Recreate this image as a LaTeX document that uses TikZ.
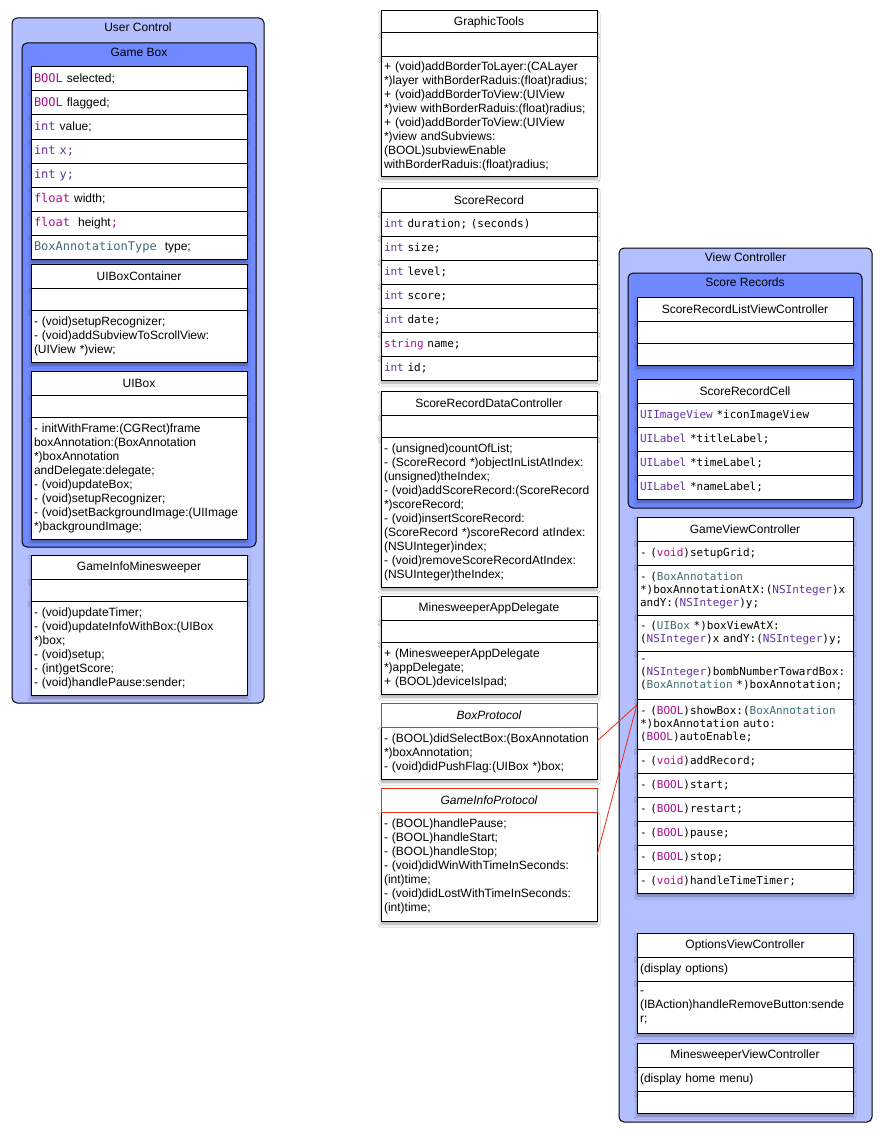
\documentclass[tikz,border=0pt]{standalone}
\usepackage{fontspec}
\setmainfont{Liberation Sans}
\newfontfamily\codefont{DejaVu Sans Mono}
\usetikzlibrary{positioning,fit,shadows.blur}

\definecolor{outerblue}{RGB}{179,191,255}
\definecolor{innerblue}{RGB}{112,137,255}
\definecolor{kwmagenta}{RGB}{170,13,145}
\definecolor{kwpurple}{RGB}{100,50,165}
\definecolor{kwteal}{RGB}{63,110,116}
\definecolor{protored}{RGB}{235,45,20}

\newcommand{\kwm}[1]{\textcolor{kwmagenta}{\codefont #1}}
\newcommand{\kwp}[1]{\textcolor{kwpurple}{\codefont #1}}
\newcommand{\kwt}[1]{\textcolor{kwteal}{\codefont #1}}

\begin{document}
\begin{tikzpicture}[
    x=1pt, y=-1pt,
    group/.style      = {draw, line width=1pt, rounded corners=5pt, fill=outerblue,
                         anchor=north west, outer sep=0pt},
    subgroup/.style   = {group, fill=innerblue},
    grouplabel/.style = {inner sep=1pt, font=\fontsize{12}{14}\selectfont},
    boxshadow/.style  = {blur shadow={shadow xshift=0pt, shadow yshift=-3pt,
                         shadow blur radius=3pt, shadow opacity=35}},
    plainhead/.style  = {draw, line width=1pt, fill=white, minimum width=216pt,
                         minimum height=24pt, inner sep=0pt, outer sep=0pt,
                         font=\fontsize{12}{14}\selectfont},
    head/.style       = {plainhead, boxshadow},
    protohead/.style  = {plainhead, draw=protored, font=\fontsize{12}{14}\selectfont\itshape},
    row/.style        = {draw, line width=1pt, fill=white, minimum height=24pt,
                         text width=210pt, inner xsep=3pt, inner ysep=0pt,
                         outer sep=0pt, align=left,
                         font=\fontsize{12}{14}\selectfont, boxshadow},
    coderow/.style    = {row, font=\codefont\fontsize{11}{13}\selectfont},
    every edge/.style = {draw=protored, line width=0.8pt}
]

\fill[white] (0,0) rectangle (882,1137);
\useasboundingbox (0,0) rectangle (882,1137);

% =========================================================
% USER CONTROL
% =========================================================
\node[group, minimum width=252pt, minimum height=685pt] (uc) at (12,18) {};
\node[grouplabel, below=4pt of uc.north] (uclabel) {User Control};

% --- Game Box
\node[subgroup, minimum width=234pt, minimum height=504pt] (gb) at (22,43) {};
\node[grouplabel, below=4pt of gb.north] (gblabel) {Game Box};

\node[row, anchor=north west] (gb1) at (31,67) {\kwm{BOOL} selected;};
\node[row, below=0pt of gb1] (gb2) {\kwm{BOOL} flagged;};
\node[row, below=0pt of gb2] (gb3) {\kwp{int} value;};
\node[row, below=0pt of gb3] (gb4) {\kwp{int x;}};
\node[row, below=0pt of gb4] (gb5) {\kwp{int y;}};
\node[row, below=0pt of gb5] (gb6) {\kwm{float} width;};
\node[row, below=0pt of gb6] (gb7) {\kwm{float}\ \ height\kwm{;}};
\node[row, below=0pt of gb7] (gb8) {\kwt{BoxAnnotationType}\ \ type;};

% --- UIBoxContainer
\node[head, below=5pt of gb8] (uibc1) {UIBoxContainer};
\node[row, minimum height=22pt, below=0pt of uibc1] (uibc2) {};
\node[row, minimum height=52pt, below=0pt of uibc2] (uibc3)
  {- (void)setupRecognizer;\\- (void)addSubviewToScrollView:\\(UIView *)view;};

% --- UIBox
\node[head, below=9pt of uibc3] (uib1) {UIBox};
\node[row, minimum height=22pt, below=0pt of uib1] (uib2) {};
\node[row, minimum height=122pt, below=0pt of uib2] (uib3)
  {- initWithFrame:(CGRect)frame\\boxAnnotation:(BoxAnnotation\\{}*)boxAnnotation\\andDelegate:delegate;\\- (void)updateBox;\\- (void)setupRecognizer;\\- (void)setBackgroundImage:(UIImage\\{}*)backgroundImage;};

% --- GameInfoMinesweeper
\node[head, below=16pt of uib3] (gim1) {GameInfoMinesweeper};
\node[row, minimum height=22pt, below=0pt of gim1] (gim2) {};
\node[row, minimum height=94pt, below=0pt of gim2] (gim3)
  {- (void)updateTimer;\\- (void)updateInfoWithBox:(UIBox\\{}*)box;\\- (void)setup;\\- (int)getScore;\\- (void)handlePause:sender;};

% =========================================================
% MIDDLE COLUMN
% =========================================================
\node[head, minimum height=22pt, anchor=north west] (gt1) at (381,11) {GraphicTools};
\node[row, below=0pt of gt1] (gt2) {};
\node[row, minimum height=119pt, below=0pt of gt2] (gt3)
  {+ (void)addBorderToLayer:(CALayer\\{}*)layer withBorderRaduis:(float)radius;\\+ (void)addBorderToView:(UIView\\{}*)view withBorderRaduis:(float)radius;\\+ (void)addBorderToView:(UIView\\{}*)view andSubviews:\\(BOOL)subviewEnable\\withBorderRaduis:(float)radius;};

% --- ScoreRecord
\node[head, below=12pt of gt3] (sr1) {ScoreRecord};
\node[coderow, below=0pt of sr1] (sr2) {\kwp{int} duration; (seconds)};
\node[coderow, below=0pt of sr2] (sr3) {\kwp{int} size;};
\node[coderow, below=0pt of sr3] (sr4) {\kwp{int} level;};
\node[coderow, below=0pt of sr4] (sr5) {\kwp{int} score;};
\node[coderow, below=0pt of sr5] (sr6) {\kwp{int} date;};
\node[coderow, below=0pt of sr6] (sr7) {\kwm{string} name;};
\node[coderow, below=0pt of sr7] (sr8) {\kwp{int} id;};

% --- ScoreRecordDataController
\node[head, below=11pt of sr8] (srdc1) {ScoreRecordDataController};
\node[row, minimum height=22pt, below=0pt of srdc1] (srdc2) {};
\node[row, minimum height=150pt, below=0pt of srdc2] (srdc3)
  {- (unsigned)countOfList;\\- (ScoreRecord *)objectInListAtIndex:\\(unsigned)theIndex;\\- (void)addScoreRecord:(ScoreRecord\\{}*)scoreRecord;\\- (void)insertScoreRecord:\\(ScoreRecord *)scoreRecord atIndex:\\(NSUInteger)index;\\- (void)removeScoreRecordAtIndex:\\(NSUInteger)theIndex;};

% --- MinesweeperAppDelegate
\node[head, below=9pt of srdc3] (mad1) {MinesweeperAppDelegate};
\node[row, minimum height=22pt, below=0pt of mad1] (mad2) {};
\node[row, minimum height=52pt, below=0pt of mad2] (mad3)
  {+ (MinesweeperAppDelegate\\{}*)appDelegate;\\+ (BOOL)deviceIsIpad;};

% --- BoxProtocol
\node[row, minimum height=52pt, below=33pt of mad3] (bp2)
  {- (BOOL)didSelectBox:(BoxAnnotation\\{}*)boxAnnotation;\\- (void)didPushFlag:(UIBox *)box;};
\node[protohead, above=0pt of bp2] (bp1) {BoxProtocol};

% --- GameInfoProtocol
\node[row, minimum height=109pt, below=33pt of bp2] (gip2)
  {- (BOOL)handlePause;\\- (BOOL)handleStart;\\- (BOOL)handleStop;\\- (void)didWinWithTimeInSeconds:\\(int)time;\\- (void)didLostWithTimeInSeconds:\\(int)time;};
\node[protohead, above=0pt of gip2] (gip1) {GameInfoProtocol};

% =========================================================
% VIEW CONTROLLER
% =========================================================
\node[group, minimum width=253pt, minimum height=874pt] (vc) at (619,248) {};
\node[grouplabel, below=4pt of vc.north] (vclabel) {View Controller};

% --- Score Records
\node[subgroup, minimum width=234pt, minimum height=235pt] (srs) at (628,273) {};
\node[grouplabel, below=4pt of srs.north] (srslabel) {Score Records};

\node[head, anchor=north west] (srlvc1) at (637,297) {ScoreRecordListViewController};
\node[row, minimum height=22pt, below=0pt of srlvc1] (srlvc2) {};
\node[row, minimum height=22pt, below=0pt of srlvc2] (srlvc3) {};

\node[head, below=14pt of srlvc3] (src1) {ScoreRecordCell};
\node[coderow, below=0pt of src1] (src2) {\kwp{UIImageView} *iconImageView};
\node[coderow, below=0pt of src2] (src3) {\kwp{UILabel} *titleLabel;};
\node[coderow, below=0pt of src3] (src4) {\kwp{UILabel} *timeLabel;};
\node[coderow, below=0pt of src4] (src5) {\kwp{UILabel} *nameLabel;};

% --- GameViewController
\node[head, below=18pt of src5] (gvc1) {GameViewController};
\node[coderow, below=0pt of gvc1] (gvc2) {- (\kwm{void})setupGrid;};
\node[coderow, minimum height=50pt, below=0pt of gvc2] (gvc3)
  {- (\kwt{BoxAnnotation}\\{}*)boxAnnotationAtX:(\kwp{NSInteger})x\\andY:(\kwp{NSInteger})y;};
\node[coderow, minimum height=36pt, below=0pt of gvc3] (gvc4)
  {- (\kwt{UIBox} *)boxViewAtX:\\(\kwp{NSInteger})x andY:(\kwp{NSInteger})y;};
\node[coderow, minimum height=48pt, below=0pt of gvc4] (gvc5)
  {-\\(\kwp{NSInteger})bombNumberTowardBox:\\(\kwt{BoxAnnotation} *)boxAnnotation;};
\node[coderow, minimum height=50pt, below=0pt of gvc5] (gvc6)
  {- (\kwm{BOOL})showBox:(\kwt{BoxAnnotation}\\{}*)boxAnnotation auto:\\(\kwm{BOOL})autoEnable;};
\node[coderow, below=0pt of gvc6] (gvc7) {- (\kwm{void})addRecord;};
\node[coderow, below=0pt of gvc7] (gvc8) {- (\kwm{BOOL})start;};
\node[coderow, below=0pt of gvc8] (gvc9) {- (\kwm{BOOL})restart;};
\node[coderow, below=0pt of gvc9] (gvc10) {- (\kwm{BOOL})pause;};
\node[coderow, below=0pt of gvc10] (gvc11) {- (\kwm{BOOL})stop;};
\node[coderow, below=0pt of gvc11] (gvc12) {- (\kwm{void})handleTimeTimer;};

% --- OptionsViewController
\node[head, below=40pt of gvc12] (ovc1) {OptionsViewController};
\node[row, below=0pt of ovc1] (ovc2) {(display options)};
\node[row, minimum height=52pt, below=0pt of ovc2] (ovc3)
  {-\\(IBAction)handleRemoveButton:sende\\r;};

% --- MinesweeperViewController
\node[head, below=10pt of ovc3] (mvc1) {MinesweeperViewController};
\node[row, below=0pt of mvc1] (mvc2) {(display home menu)};
\node[row, minimum height=22pt, below=0pt of mvc2] (mvc3) {};

% =========================================================
% PROTOCOL LINKS
% =========================================================
\node[fit=(bp1)(bp2), inner sep=0pt] (bp) {};
\node[fit=(gip1)(gip2), inner sep=0pt] (gip) {};
\node[fit=(gvc1)(gvc12), inner sep=0pt] (gvc) {};

\path
  (bp.east)  edge (gvc.west)
  (gip.east) edge (gvc.west);

\end{tikzpicture}
\end{document}
